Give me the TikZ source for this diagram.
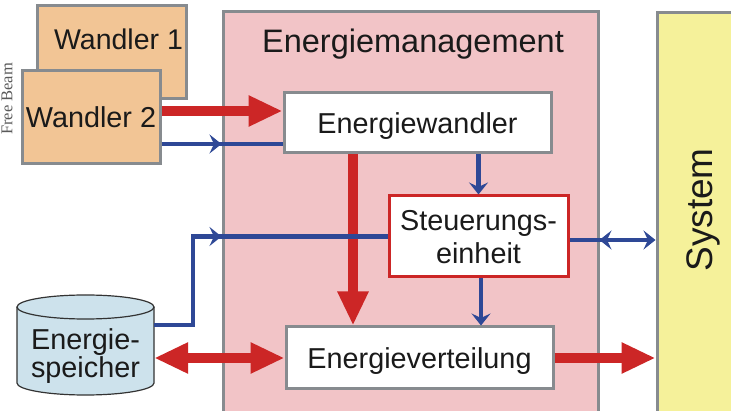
\documentclass[tikz,border=0pt]{standalone}
\usepackage{fontspec}
\setmainfont{Liberation Sans}
\newfontfamily\beamfont{Liberation Serif}
\usetikzlibrary{arrows.meta,calc}

\definecolor{wandlerfill}{HTML}{F2C595}
\definecolor{mgmtfill}{HTML}{F2C4C7}
\definecolor{sysfill}{HTML}{F5F19A}
\definecolor{storefill}{HTML}{CDE2EC}
\definecolor{boxgrey}{HTML}{878B8F}
\definecolor{flowred}{HTML}{CC2626}
\definecolor{ctrlblue}{HTML}{2E4896}
\definecolor{txt}{HTML}{1A1A1A}

\begin{document}
\begin{tikzpicture}[x=1pt,y=-1pt,
  box/.style={draw=boxgrey, line width=3pt, inner sep=0pt, text=txt,
    font=\fontsize{28.8}{33}\selectfont, text depth=0pt, align=center},
  label28/.style={inner sep=0pt, text=txt, font=\fontsize{28.5}{33}\selectfont},
  energy/.style={draw=flowred, line width=10pt},
  energytip/.style={energy, -{Triangle[length=34pt,width=29pt]}},
  energyboth/.style={energy, {Triangle[length=34pt,width=29pt]}-{Triangle[length=34pt,width=29pt]}},
  signal/.style={draw=ctrlblue, line width=4.5pt},
  signaltip/.style={signal, -{Stealth[length=12pt,width=19pt,inset=4.5pt]}}
]
\useasboundingbox (0,0) rectangle (731,411);
\clip (0,0) rectangle (731,411);
\fill[white] (0,0) rectangle (731,411);

% side label
\node[rotate=90, inner sep=0pt, text=black!65, font=\beamfont\fontsize{16.5}{18}\selectfont] (beam) at (7,99) {Free Beam};

% energy sources
\node[box, fill=wandlerfill, minimum width=149pt, minimum height=93pt] (w1) at (111.5,52.5) {};
\node[label28, anchor=base] (w1txt) at (118.5,50) {Wandler 1};
\node[box, fill=wandlerfill, minimum width=138pt, minimum height=93pt] (w2) at (91,117.5) {Wandler 2};

% energy management block and system
\node[box, fill=mgmtfill, minimum width=375pt, minimum height=408pt] (mgmt) at (410.5,216) {};
\node[label28, anchor=base, font=\fontsize{32.5}{36}\selectfont] (title) at (413,53) {Energiemanagement};
\node[box, fill=sysfill, minimum width=103pt, minimum height=407pt] (sys) at (708.5,216.5) {};
\node[label28, rotate=90, font=\fontsize{37}{40}\selectfont, text depth=0pt] (systxt) at (700,210) {System};

% inner blocks
\node[box, fill=white, minimum width=267pt, minimum height=60pt] (ew) at (417.5,123) {Energiewandler};
\node[box, draw=flowred, fill=white, minimum width=179pt, minimum height=81pt] (st) at (478.5,236.5) {Steuerungs-\\einheit};
\node[box, fill=white, minimum width=267pt, minimum height=62pt] (ev) at (419.5,358) {Energieverteilung};

% energy storage drawn as a cylinder
\fill[storefill] (17,307) -- (17,383) arc[start angle=180,end angle=360,x radius=68.5pt,y radius=12pt]
  -- (154,307) arc[start angle=0,end angle=180,x radius=68.5pt,y radius=12pt] -- cycle;
\draw[black!80, line width=1.2pt] (17,307) -- (17,383) arc[start angle=180,end angle=360,x radius=68.5pt,y radius=12pt] -- (154,307);
\draw[black!80, line width=1.2pt] (85.5,307) ellipse[x radius=68.5pt,y radius=12pt];
\node[inner sep=0pt, minimum width=137pt, minimum height=76pt] (es) at (85.5,345) {};
\node[label28, align=center, font=\fontsize{28.8}{28}\selectfont, text depth=0pt] (estxt) at (85.5,353) {Energie-\\speicher};

% energy flows
\draw[energytip] ([yshift=6.5pt]w2.east) -- ([yshift=6.5pt]w2.east -| ew.west);
\draw[energytip] ([xshift=-64.5pt]ew.south) -- ([xshift=-64.5pt]ew.south |- ev.north);
\draw[energyboth] (ev.west -| es.east) -- (ev.west);
\draw[energytip] (ev.east) -- (ev.east -| sys.west);

% control signals
\coordinate (b1) at ([yshift=-26.5pt]w2.east);
\draw[signal] (b1) -- (b1 -| ew.west);
\draw[signaltip] ($(b1 -| mgmt.west)+(-14,0)$) -- (b1 -| mgmt.west);

\draw[signaltip] (st.north |- ew.south) -- (st.north);
\draw[signaltip] ([xshift=2.5pt]st.south) -- ([xshift=2.5pt]st.south |- ev.north);

\coordinate (c1) at ([yshift=20pt]es.east);
\draw[signal] (c1) -- ++(39,0) |- (st.west);
\draw[signaltip] ($(st.west -| mgmt.west)+(-14,0)$) -- (st.west -| mgmt.west);

\coordinate (d1) at ([yshift=-3.5pt]st.east);
\draw[signaltip] (d1) -- (d1 -| sys.west);
\draw[signaltip] ($(d1 -| mgmt.east)+(14,0)$) -- (d1 -| mgmt.east);
\end{tikzpicture}
\end{document}
